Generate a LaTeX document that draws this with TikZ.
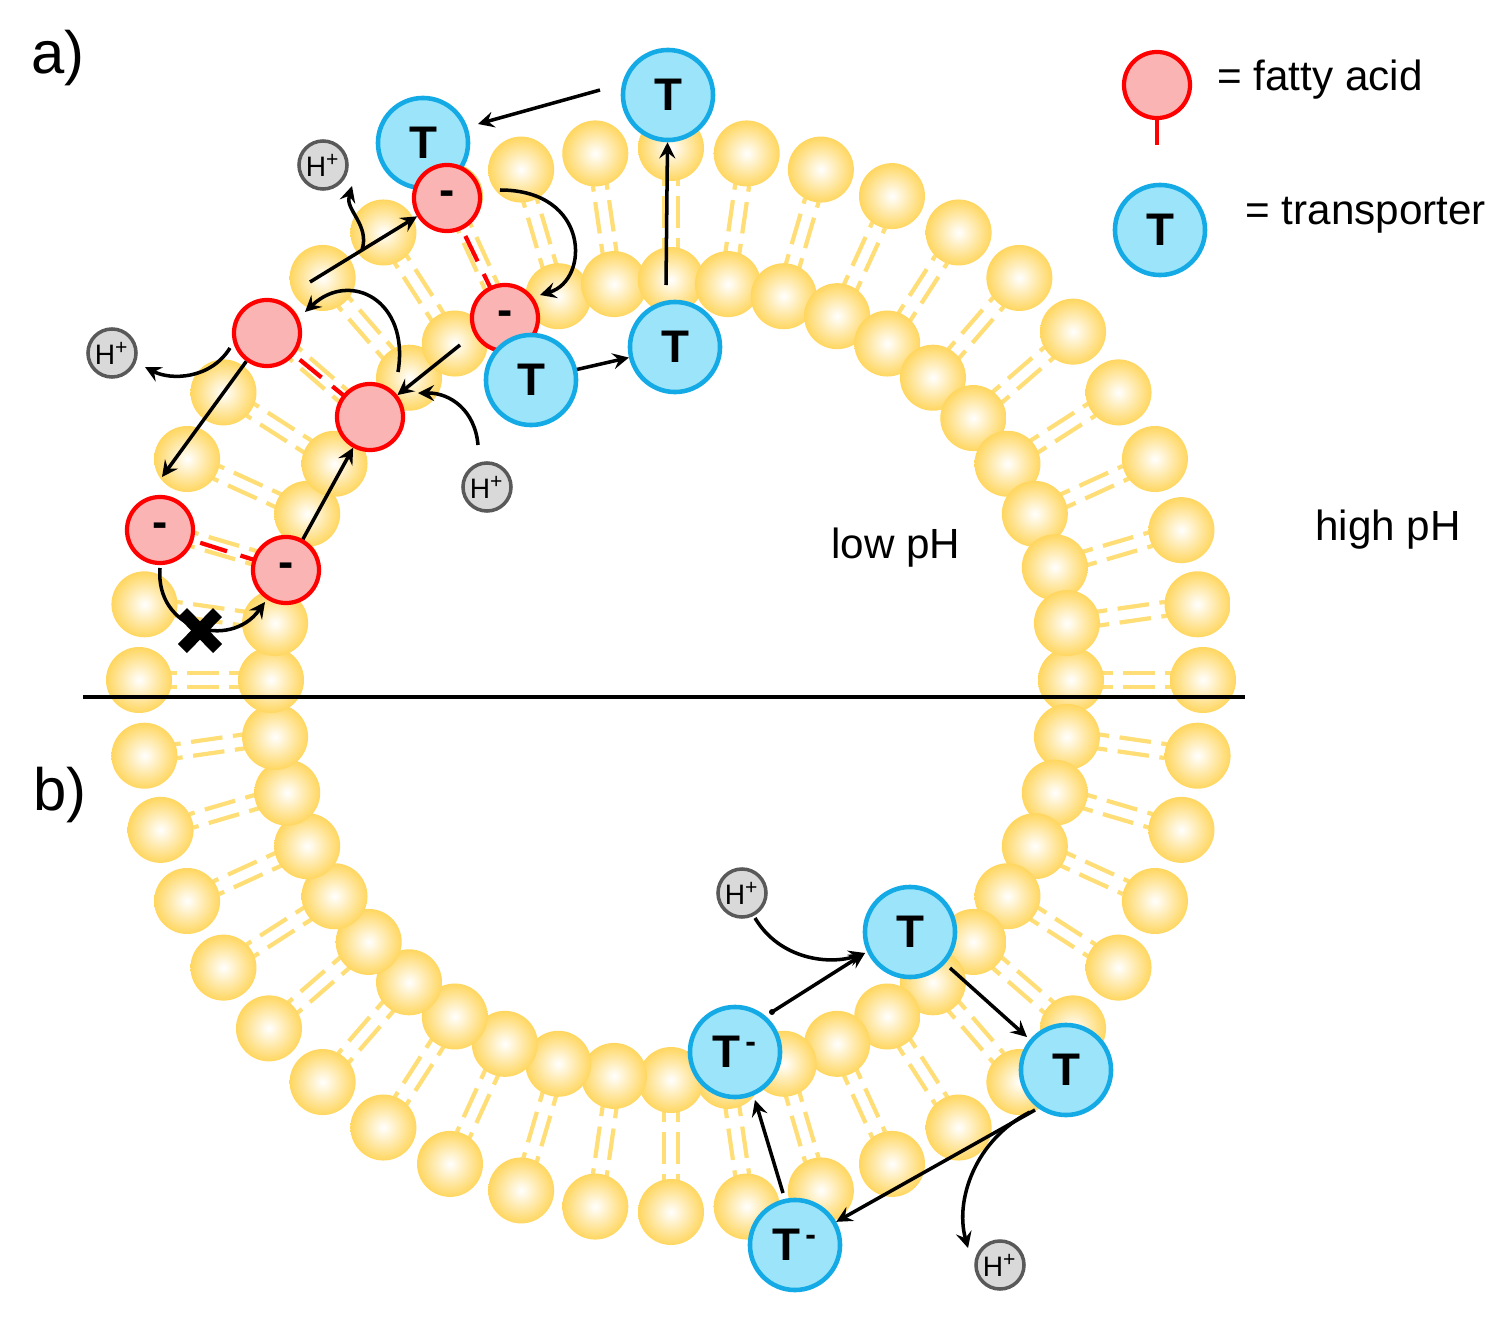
\documentclass[tikz,border=0pt]{standalone}
\usepackage{fontspec}
\setmainfont{Liberation Sans}
\usetikzlibrary{calc}
\begin{document}
\begin{tikzpicture}[x=0.01cm,y=-0.01cm,
  tail/.style={draw=lipid,line width=1.2pt,dash pattern=on 9pt off 3pt},
  fa/.style={circle,draw=red,line width=1.2pt,fill=pinkfa,minimum size=0.66cm,inner sep=0pt,font=\bfseries\fontsize{13}{13}\selectfont},
  tr/.style={circle,draw=bluebd,line width=1.3pt,fill=bluefill,minimum size=0.9cm,inner sep=0pt,font=\bfseries\fontsize{13}{13}\selectfont},
  hp/.style={circle,draw=gray!70!black,line width=1pt,fill=gray!30,minimum size=0.48cm,inner sep=0pt,font=\fontsize{8}{8}\selectfont},
  arr/.style={-stealth,line width=1pt},
  lbl/.style={font=\fontsize{12}{14}\selectfont},
  rdash/.style={red,line width=1.2pt,dash pattern=on 8pt off 4pt}]
\definecolor{lipid}{RGB}{255,222,120}
\definecolor{lipidd}{RGB}{255,214,95}
\definecolor{pinkfa}{RGB}{250,180,180}
\definecolor{bluefill}{RGB}{155,228,250}
\definecolor{bluebd}{RGB}{20,170,230}
\useasboundingbox (0,0) rectangle (1496,1321);
% lipids
\foreach \i in {0,...,43}{
  \pgfmathsetmacro{\a}{\i*360/44}
  \draw[tail] ($(671,680)+(\a:410)+(\a+90:7)$) -- ($(671,680)+(\a:500)+(\a+90:7)$);
  \draw[tail] ($(671,680)+(\a:410)+(\a-90:7)$) -- ($(671,680)+(\a:500)+(\a-90:7)$);
}
\foreach \i in {0,...,43}{
  \pgfmathsetmacro{\a}{\i*360/44}
  \shade[inner color=white,outer color=lipidd] ($(671,680)+(\a:400)$) circle (33);
  \shade[inner color=white,outer color=lipidd] ($(671,680)+(\a:532)$) circle (33);
}
\draw[line width=1pt] (83,697) -- (1245,697);
% labels
\node[font=\fontsize{17}{20}\selectfont] (la) at (58,58) {a)};
\node[font=\fontsize{17}{20}\selectfont] (lb) at (60,795) {b)};
\node[lbl] (low) at (896,548) {low pH};
\node[lbl] (high) at (1388,530) {high pH};
% legend
\draw[red,line width=1.2pt] (1157,110) -- (1157,145);
\node[fa] (lfa) at (1157,85) {};
\node[lbl,anchor=west] (lfat) at (1205,80) {= fatty acid};
\node[tr] (ltr) at (1160,230) {T};
\node[lbl,anchor=west] (ltrt) at (1233,215) {= transporter};
% transporters
\node[tr] (t1) at (423,143) {T};
\node[tr] (t2) at (668,95) {T};
\node[tr] (t3) at (675,347) {T};
\node[tr] (t5) at (910,932) {T};
\node[tr] (t6) at (1066,1070) {T};
\node[tr] (t7) at (735,1052) {T\textsuperscript{\,-}};
\node[tr] (t8) at (795,1245) {T\textsuperscript{\,-}};
% fatty acids
\draw[rdash] (447,198) -- (505,318);
\draw[rdash] (267,333) -- (370,417);
\draw[rdash] (160,530) -- (286,570);
\node[fa] (f1) at (447,198) {-};
\node[fa] (f2) at (505,318) {-};
\node[fa] (f3) at (267,333) {};
\node[fa] (f4) at (370,417) {};
\node[fa] (f5) at (160,530) {-};
\node[fa] (f6) at (286,570) {-};
\node[tr] (t4) at (531,380) {T};
% protons
\node[hp] (h1) at (323,165) {H\textsuperscript{+}};
\node[hp] (h2) at (112,353) {H\textsuperscript{+}};
\node[hp] (h3) at (487,487) {H\textsuperscript{+}};
\node[hp] (h4) at (742,893) {H\textsuperscript{+}};
\node[hp] (h5) at (1000,1265) {H\textsuperscript{+}};
% arrows a)
\coordinate (c1) at (600,90);
\draw[arr] (c1) -- (478,124);
\draw[arr] (666,285) -- (t2);
\draw[arr] (t4) -- (t3);
\coordinate (c2) at (310,282);
\draw[arr] (c2) -- (f1);
\coordinate (c3) at (460,345);
\draw[arr] (c3) -- (f4);
\draw[arr] (f6) -- (f4);
\draw[arr] (f3) -- (162,477);
\draw[arr] (500,190) .. controls (590,190) and (590,280) .. (540,295);
\draw[arr] (398,372) .. controls (410,300) and (350,270) .. (305,312);
\draw[arr] (362,250) .. controls (370,225) and (345,210) .. (352,186);
\draw[arr] (230,348) .. controls (210,380) and (170,380) .. (145,367);
\draw[arr] (478,445) .. controls (475,410) and (450,393) .. (418,393);
\draw[arr] (160,568) .. controls (155,630) and (230,650) .. (265,602);
\fill (178,617) -- (187,608) -- (222,644) -- (213,653) -- cycle;
\fill (178,644) -- (187,653) -- (222,617) -- (213,608) -- cycle;
% arrows b)
\draw[arr] (772,1012) -- (865,953);
\fill (772,1012) circle (3);
\draw[arr] (755,918) .. controls (780,960) and (830,965) .. (865,953);
\draw[arr] (950,968) -- (1027,1037);
\draw[arr] (1035,1110) -- (t8);
\draw[arr] (1030,1112) .. controls (975,1140) and (955,1200) .. (968,1248);
\draw[arr] (783,1193) -- (755,1100);
\end{tikzpicture}
\end{document}
